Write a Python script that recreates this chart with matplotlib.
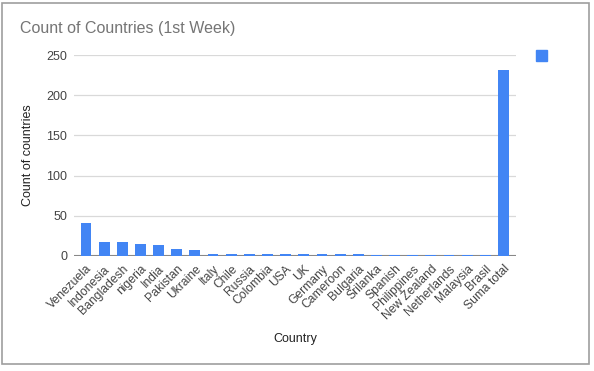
import matplotlib.pyplot as plt
from matplotlib.patches import Rectangle

plt.rcParams['font.family'] = ['Liberation Sans', 'DejaVu Sans']

countries = ["Venezuela", "Indonesia", "Bangladesh", "nigeria", "India", "Pakistan",
             "Ukraine", "Italy", "Chile", "Russia", "Colombia", "USA", "UK", "Germany",
             "Cameroon", "Bulgaria", "Srilanka", "Spanish", "Philippines", "New Zealand",
             "Netherlands", "Malaysia", "Brasil", "Suma total"]
counts = [41, 17, 17, 15, 14, 9, 8, 3, 3, 3, 3, 2, 2, 2, 2, 2, 1, 1, 1, 1, 1, 1, 1, 231]
yticks = [0, 50, 100, 150, 200, 250]

blue = "#4285f4"
grey_txt = "#444444"

fig = plt.figure(figsize=(5.94, 3.71), dpi=100)
ax = fig.add_axes([74/594, 1-256/371, (516-74)/594, (256-55)/371])

x = range(len(countries))
ax.bar(x, counts, width=0.6, color=blue, label=" ", zorder=3)
ax.set_xlim(-0.66, len(countries) - 0.31)
ax.set_ylim(0, 250)
ax.set_yticks(yticks)
ax.set_yticklabels([str(v) for v in yticks], fontsize=9, color=grey_txt)
ax.set_xticks(list(x))
ax.set_xticklabels(countries, rotation=45, ha="right", rotation_mode="anchor",
                   fontsize=8.7, color=grey_txt)
ax.tick_params(length=0, pad=5)
ax.grid(axis="y", color="#d9d9d9", lw=0.9, zorder=0)
for s in ax.spines.values():
    s.set_visible(False)
ax.axhline(0, color="#888888", lw=1.5, zorder=2)

ax.set_xlabel("Country", fontsize=9, color="#222222", labelpad=8)
ax.set_ylabel("Count of countries", fontsize=9, color="#222222", labelpad=9)

fig.text(20/594, 1-28/371, "Count of Countries (1st Week)", fontsize=11.5,
         color="#757575", va="center", ha="left")

# legend marker without label
fig.patches.append(Rectangle((536/594, 1-61/371), 11/594, 11/371,
                             transform=fig.transFigure, color=blue))

# chart frame
fig.patches.append(Rectangle((2/594, 1-364/371), 587/594, 361/371,
                             transform=fig.transFigure, fill=False,
                             edgecolor="#9e9e9e", lw=1.2))

fig.savefig("out.png", dpi=100)
